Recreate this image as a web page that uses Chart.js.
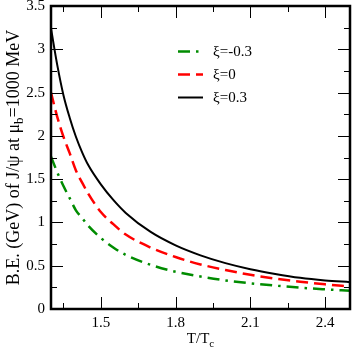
<!DOCTYPE html>
<html>
<head>
<meta charset="utf-8">
<script src="https://cdn.jsdelivr.net/npm/chart.js@4.4.0/dist/chart.umd.min.js"></script>
<style>
  html, body { margin: 0; padding: 0; background: #fff; }
  #wrap { width: 354px; height: 354px; }
</style>
</head>
<body>
<div id="wrap"><canvas id="chart" width="354" height="354"></canvas></div>
<script>
// values
var tValues = [1.3, 1.325, 1.35, 1.375, 1.4, 1.425, 1.45, 1.5, 1.55, 1.6, 1.7, 1.8, 1.9, 2.0, 2.1, 2.2, 2.3, 2.4, 2.5];
var beNeg = [1.76, 1.58, 1.42, 1.28, 1.14, 1.05, 0.96, 0.82, 0.71, 0.625, 0.51, 0.43, 0.375, 0.33, 0.297, 0.27, 0.246, 0.227, 0.21];
var beZero = [2.50, 2.22, 1.99, 1.80, 1.60, 1.46, 1.33, 1.12, 0.98, 0.86, 0.71, 0.60, 0.515, 0.45, 0.395, 0.35, 0.315, 0.285, 0.26];
var bePos = [3.24, 2.82, 2.47, 2.21, 1.99, 1.81, 1.66, 1.44, 1.26, 1.11, 0.89, 0.735, 0.62, 0.53, 0.46, 0.405, 0.36, 0.33, 0.31];

var seriesLabels = ["ξ=-0.3", "ξ=0", "ξ=0.3"];
var xTicks = [1.5, 1.8, 2.1, 2.4];
var xMinorTicks = [1.35, 1.65, 1.95, 2.25];
var yTicks = [0, 0.5, 1, 1.5, 2, 2.5, 3, 3.5];
var yMinorTicks = [0.25, 0.75, 1.25, 1.75, 2.25, 2.75, 3.25];

var serif = "'Liberation Serif', 'Times New Roman', serif";

function points (ys) {
    return tValues.map(function (t, i) { return { x: t, y: ys[i] }; });
}

function drawFrame (chart) {
    let ctx = chart.ctx;
    let area = chart.chartArea;
    let xs = chart.scales.x;
    let ys = chart.scales.y;
    ctx.save();
    ctx.strokeStyle = "#000";
    ctx.lineWidth = 1;
    function xTick (v, len) {
        let px = Math.round(xs.getPixelForValue(v)) + 0.5;
        ctx.beginPath();
        ctx.moveTo(px, area.bottom);
        ctx.lineTo(px, area.bottom - len);
        ctx.moveTo(px, area.top);
        ctx.lineTo(px, area.top + len);
        ctx.stroke();
    }
    function yTick (v, len) {
        let py = Math.round(ys.getPixelForValue(v)) + 0.5;
        ctx.beginPath();
        ctx.moveTo(area.left, py);
        ctx.lineTo(area.left + len, py);
        ctx.moveTo(area.right, py);
        ctx.lineTo(area.right - len, py);
        ctx.stroke();
    }
    xTicks.forEach(function (v) { xTick(v, 12); });
    xMinorTicks.forEach(function (v) { xTick(v, 6); });
    yTicks.forEach(function (v) { yTick(v, 12); });
    yMinorTicks.forEach(function (v) { yTick(v, 6); });

    ctx.lineWidth = 2.5;
    ctx.strokeRect(area.left, area.top, area.right - area.left, area.bottom - area.top);

    // axis titles
    ctx.fillStyle = "#000";
    ctx.font = "15px " + serif;
    ctx.textBaseline = "alphabetic";
    let cx = (area.left + area.right) / 2;
    let w1 = ctx.measureText("T/T").width;
    ctx.font = "11px " + serif;
    let w2 = ctx.measureText("c").width;
    let sx = cx - (w1 + w2) / 2;
    ctx.font = "15px " + serif;
    ctx.textAlign = "left";
    ctx.fillText("T/T", sx, 343);
    ctx.font = "11px " + serif;
    ctx.fillText("c", sx + w1, 347);

    let part1 = "B.E. (GeV) of J/ψ at μ";
    let sub = "b";
    let part2 = "=1000 MeV";
    let big = "18px " + serif;
    let small = "13px " + serif;
    ctx.font = big;
    let a = ctx.measureText(part1).width;
    let c = ctx.measureText(part2).width;
    ctx.font = small;
    let b = ctx.measureText(sub).width;
    let cy = (area.top + area.bottom) / 2;
    ctx.translate(19, cy);
    ctx.rotate(-Math.PI / 2);
    let start = -(a + b + c) / 2;
    ctx.font = big;
    ctx.fillText(part1, start, 0);
    ctx.font = small;
    ctx.fillText(sub, start + a, 4);
    ctx.font = big;
    ctx.fillText(part2, start + a + b, 0);
    ctx.restore();
}

function drawLegend (chart) {
    let ctx = chart.ctx;
    ctx.save();
    chart.data.datasets.forEach(function (ds, i) {
        let y = 51.5 + i * 23;
        ctx.strokeStyle = ds.borderColor;
        ctx.lineWidth = ds.borderWidth;
        ctx.setLineDash(ds.borderDash || []);
        ctx.beginPath();
        ctx.moveTo(178, y);
        ctx.lineTo(203, y);
        ctx.stroke();
        ctx.setLineDash([]);
        ctx.fillStyle = "#000";
        ctx.font = "15px " + serif;
        ctx.textAlign = "left";
        ctx.textBaseline = "middle";
        ctx.fillText(ds.label, 213, y + 1);
    });
    ctx.restore();
}

var framePlugin = {
    id: "frame",
    afterDraw: function (chart) {
        drawFrame(chart);
        drawLegend(chart);
    }
};

new Chart(document.getElementById("chart"), {
    type: "line",
    data: {
        datasets: [
            {
                label: seriesLabels[0],
                data: points(beNeg),
                borderColor: "#008c00",
                borderWidth: 2.5,
                borderDash: [12, 6, 2.5, 6]
            },
            {
                label: seriesLabels[1],
                data: points(beZero),
                borderColor: "#ff0000",
                borderWidth: 2.5,
                borderDash: [12, 6]
            },
            {
                label: seriesLabels[2],
                data: points(bePos),
                borderColor: "#000000",
                borderWidth: 2
            }
        ]
    },
    options: {
        responsive: false,
        animation: false,
        devicePixelRatio: 1,
        layout: { padding: { top: 6, right: 4, left: 0, bottom: 0 } },
        elements: {
            point: { radius: 0 },
            line: { cubicInterpolationMode: "monotone", fill: false }
        },
        plugins: {
            legend: { display: false },
            tooltip: { enabled: false }
        },
        scales: {
            x: {
                type: "linear",
                min: 1.3,
                max: 2.5,
                grid: { display: false, drawTicks: false },
                border: { display: false },
                afterBuildTicks: function (scale) {
                    scale.ticks = xTicks.map(function (v) { return { value: v }; });
                },
                afterFit: function (scale) {
                    scale.height = 45;
                    scale.paddingLeft = 0;
                    scale.paddingRight = 0;
                },
                ticks: {
                    padding: 5,
                    maxRotation: 0,
                    autoSkip: false,
                    color: "#000",
                    font: { family: serif, size: 15 },
                    callback: function (v) { return v.toFixed(1); }
                }
            },
            y: {
                type: "linear",
                min: 0,
                max: 3.5,
                grid: { display: false, drawTicks: false },
                border: { display: false },
                afterBuildTicks: function (scale) {
                    scale.ticks = yTicks.map(function (v) { return { value: v }; });
                },
                afterFit: function (scale) {
                    scale.width = 51;
                    scale.paddingTop = 0;
                    scale.paddingBottom = 0;
                },
                ticks: {
                    padding: 6,
                    color: "#000",
                    font: { family: serif, size: 15 },
                    callback: function (v) { return String(v); }
                }
            }
        }
    },
    plugins: [framePlugin]
});
</script>
</body>
</html>
